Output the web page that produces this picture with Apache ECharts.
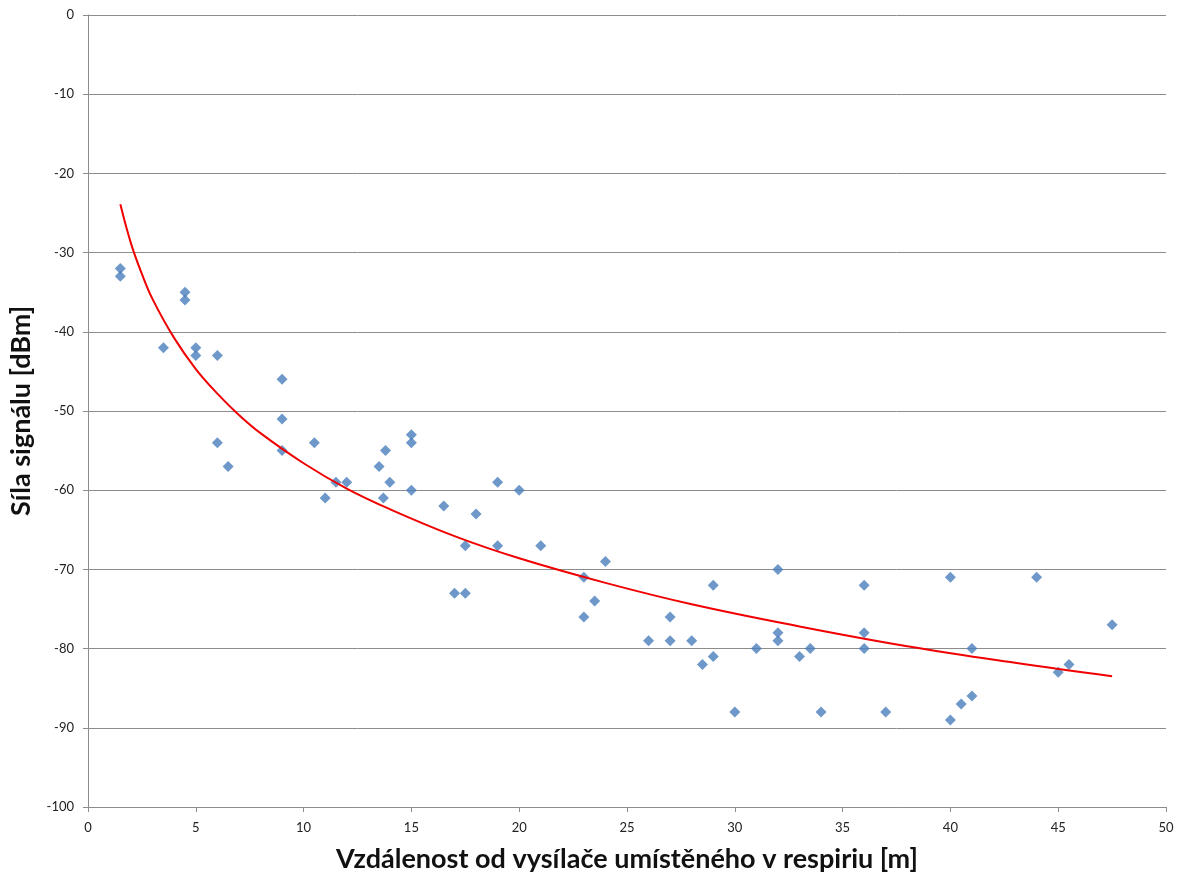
<!DOCTYPE html>
<html>
<head>
<meta charset="utf-8">
<script src="https://cdn.jsdelivr.net/npm/echarts@6/dist/echarts.min.js"></script>
<style>
  html, body { margin: 0; padding: 0; background: #fff; }
  #chart { width: 1179px; height: 874px; }
</style>
</head>
<body>
<div id="chart"></div>
<script>
// naměřené body [vzdálenost m, síla dBm]
var measX = [1.5, 1.5, 3.5, 4.5, 4.5, 5, 5, 6, 6, 6.5, 9, 9, 9, 10.5, 11, 11.5, 12, 13.5, 13.8, 13.7, 14, 15, 15, 15, 16.5, 17, 17.5, 17.5, 18, 19, 19, 20, 21,
  23, 23, 23.5, 24, 26, 27, 27, 28, 28.5, 29, 29, 30, 31, 32, 32, 32, 33, 33.5, 34, 36, 36, 36, 37, 40, 40, 40.5, 41, 41, 44, 45, 45.5, 47.5];
var measY = [-32, -33, -42, -35, -36, -42, -43, -43, -54, -57, -46, -51, -55, -54, -61, -59, -59, -57, -55, -61, -59, -53, -54, -60, -62, -73, -67, -73, -63, -59, -67, -60, -67,
  -71, -76, -74, -69, -79, -76, -79, -79, -82, -81, -72, -88, -80, -70, -78, -79, -81, -80, -88, -72, -78, -80, -88, -71, -89, -87, -86, -80, -71, -83, -82, -77];

// trend
var trendX = [1.5, 2, 2.5, 3, 4, 5, 6, 7, 8, 10, 12, 14, 17, 20, 24, 28, 33, 38, 43, 47.5];
var trendY = [-23.9, -28.9, -32.7, -35.9, -40.8, -44.7, -47.8, -50.5, -52.8, -56.6, -59.8, -62.4, -65.8, -68.6, -71.7, -74.4, -77.2, -79.7, -81.8, -83.5];

var chart = echarts.init(document.getElementById('chart'));

var points = measX.map(function (x, i) { return [x, measY[i]]; });
var trend = trendX.map(function (x, i) { return [x, trendY[i]]; });

var axisFont = 'Lato, "Open Sans", sans-serif';

var opt = {
  animation: false,
  grid: {
    left: 88,
    right: 13,
    top: 15,
    bottom: 67,
    containLabel: false,
    outerBoundsMode: 'none'
  },
  xAxis: {
    type: 'value',
    min: 0,
    max: 50,
    interval: 5,
    name: 'Vzdálenost od vysílače umístěného v respiriu [m]',
    nameLocation: 'middle',
    nameGap: 39,
    nameTextStyle: {
      fontFamily: axisFont,
      fontWeight: 'bold',
      fontSize: 27,
      color: '#111'
    },
    axisLine: { show: true, onZero: false, lineStyle: { color: '#8c8c8c', width: 1 } },
    axisTick: { show: true, inside: false, length: 5, lineStyle: { color: '#8c8c8c' } },
    axisLabel: { margin: 14, fontFamily: axisFont, fontSize: 13, color: '#222' },
    splitLine: { show: false }
  },
  yAxis: {
    type: 'value',
    min: -100,
    max: 0,
    interval: 10,
    name: 'Síla signálu [dBm]',
    nameLocation: 'middle',
    nameGap: 53,
    nameRotate: 90,
    nameTextStyle: {
      fontFamily: axisFont,
      fontWeight: 'bold',
      fontSize: 27,
      color: '#111'
    },
    axisLine: { show: true, onZero: false, lineStyle: { color: '#8c8c8c', width: 1 } },
    axisTick: { show: true, inside: false, length: 5, lineStyle: { color: '#8c8c8c' } },
    axisLabel: { margin: 14, fontFamily: axisFont, fontSize: 13, color: '#222' },
    splitLine: { show: true, lineStyle: { color: '#8c8c8c', width: 1 } }
  },
  series: [{
    name: 'měření',
    type: 'scatter',
    symbol: 'diamond',
    symbolSize: [11, 11],
    itemStyle: { color: '#4a7ebb' },
    data: points,
    z: 3
  }, {
    name: 'trend',
    type: 'line',
    smooth: 0.4,
    showSymbol: false,
    lineStyle: { color: '#f00000', width: 2 },
    data: trend,
    z: 4
  }]
};

chart.setOption(opt);
</script>
</body>
</html>
